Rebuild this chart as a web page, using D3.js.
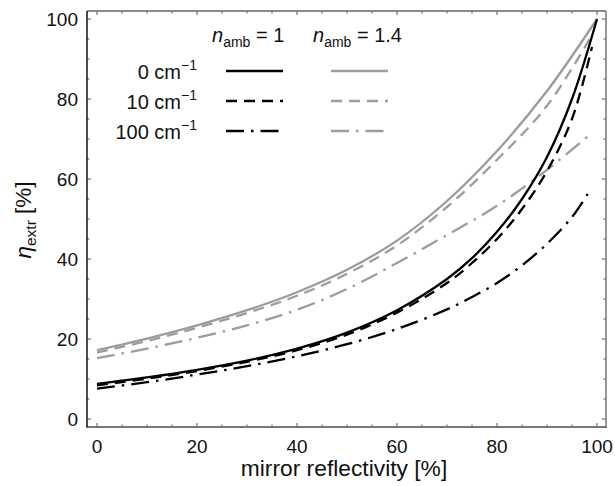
<!DOCTYPE html>
<html>
<head>
<meta charset="utf-8">
<script src="https://cdn.jsdelivr.net/npm/d3@7"></script>
<style>
body{margin:0;background:#fff;}
text{font-family:"Liberation Sans", Arial, Helvetica, sans-serif;fill:#111;}
</style>
</head>
<body>
<svg id="chart" width="615" height="486"></svg>
<script>
// values (x = mirror reflectivity %, y = eta_extr %)
var xsBlack = [0, 10, 20, 30, 40, 50, 60, 70, 75, 80, 85, 90, 95, 100];
var xsBlackDashed = [0, 10, 20, 30, 40, 50, 60, 70, 75, 80, 85, 90, 95, 99];
var xsBlackDashDot = [0, 10, 20, 30, 40, 50, 60, 70, 75, 80, 85, 90, 95, 98.5];
var xsGray = [0, 10, 20, 30, 40, 50, 60, 70, 80, 90, 100];
var xsGrayDashed = [0, 10, 20, 30, 40, 50, 60, 70, 80, 90, 99];
var xsGrayDashDot = [0, 10, 20, 30, 40, 50, 60, 70, 80, 90, 98.5];

var n1_0 = [8.8, 10.4, 12.3, 14.6, 17.6, 21.6, 27.2, 35, 40.2, 46.8, 55, 65.5, 80, 100];
var n1_10 = [8.4, 10.1, 12, 14.3, 17.2, 21.1, 26.6, 34, 39, 45, 52.5, 62, 75, 93];
var n1_100 = [7.6, 9.2, 11.1, 13.2, 15.7, 18.7, 22.5, 27.4, 30.5, 34, 38.4, 43.8, 50.5, 57];
var n14_0 = [17.2, 20.1, 23.4, 27.2, 31.7, 37.3, 44.6, 54.5, 67, 82, 100];
var n14_10 = [16.6, 19.5, 22.8, 26.5, 30.8, 36.3, 43.4, 53, 64.8, 78.3, 96];
var n14_100 = [15.2, 17.6, 20.3, 23.4, 27.3, 32.5, 39, 46, 53.3, 62.3, 71];

var xMajor = [0, 20, 40, 60, 80, 100];
var yMajor = [0, 20, 40, 60, 80, 100];
var rowLabels = ["0", "10", "100"];

var svg = d3.select("#chart");
var black = "#000", gray = "#9c9c9c";
var dashes = [null, "11,7", "18,7,2.5,7"];

var x = d3.scaleLinear().domain([-2, 101.8]).range([87, 606]);
var y = d3.scaleLinear().domain([-2, 102]).range([427, 11]);

var series = [
	{xv: xsBlack, yv: n1_0, color: black, dash: dashes[0]},
	{xv: xsBlackDashed, yv: n1_10, color: black, dash: dashes[1]},
	{xv: xsBlackDashDot, yv: n1_100, color: black, dash: dashes[2]},
	{xv: xsGray, yv: n14_0, color: gray, dash: dashes[0]},
	{xv: xsGrayDashed, yv: n14_10, color: gray, dash: dashes[1]},
	{xv: xsGrayDashDot, yv: n14_100, color: gray, dash: dashes[2]}
];

var line = d3.line()
	.x(function(d){ return x(d[0]); })
	.y(function(d){ return y(d[1]); })
	.curve(d3.curveCatmullRom.alpha(0.5));

// gray first so black sits on top
[3, 4, 5, 0, 1, 2].forEach(function(i){
	var s = series[i];
	svg.append("path")
		.datum(d3.zip(s.xv, s.yv))
		.attr("d", line)
		.attr("fill", "none")
		.attr("stroke", s.color)
		.attr("stroke-width", 2.3)
		.attr("stroke-dasharray", s.dash);
});

// frame ticks, inward on all sides
var minor = d3.range(0, 101, 5);
var tickG = svg.append("g").attr("stroke", "#555").attr("stroke-width", 1);
minor.forEach(function(v){
	var len = v % 20 === 0 ? 4 : 2.5;
	tickG.append("line").attr("x1", x(v)).attr("x2", x(v)).attr("y1", 427).attr("y2", 427 - len);
	tickG.append("line").attr("x1", x(v)).attr("x2", x(v)).attr("y1", 11).attr("y2", 11 + len);
	tickG.append("line").attr("y1", y(v)).attr("y2", y(v)).attr("x1", 87).attr("x2", 87 + len);
	tickG.append("line").attr("y1", y(v)).attr("y2", y(v)).attr("x1", 606).attr("x2", 606 - len);
});

// frame
svg.append("line").attr("x1", 87).attr("x2", 606).attr("y1", 11).attr("y2", 11).attr("stroke", "#666").attr("stroke-width", 1.5);
svg.append("line").attr("x1", 606).attr("x2", 606).attr("y1", 11).attr("y2", 427).attr("stroke", "#777").attr("stroke-width", 1.5);
svg.append("line").attr("x1", 86).attr("x2", 607).attr("y1", 427).attr("y2", 427).attr("stroke", "#777").attr("stroke-width", 1.8);
svg.append("line").attr("x1", 87).attr("x2", 87).attr("y1", 11).attr("y2", 427).attr("stroke", "#111").attr("stroke-width", 1.5);

// tick labels
svg.selectAll(".xl").data(xMajor).enter().append("text")
	.attr("x", function(d){ return x(d); })
	.attr("y", 453)
	.attr("text-anchor", "middle")
	.attr("font-size", 19)
	.text(function(d){ return d; });

svg.selectAll(".yl").data(yMajor).enter().append("text")
	.attr("x", 78)
	.attr("y", function(d){ return y(d) + 6.8; })
	.attr("text-anchor", "end")
	.attr("font-size", 19)
	.text(function(d){ return d; });

// axis titles
svg.append("text")
	.attr("x", 344).attr("y", 476)
	.attr("text-anchor", "middle")
	.attr("font-size", 22.8)
	.text("mirror reflectivity [%]");

var yt = svg.append("text")
	.attr("transform", "translate(31,220) rotate(-90)")
	.attr("text-anchor", "middle")
	.attr("font-size", 22.5);
yt.append("tspan").attr("font-style", "italic").text("η");
yt.append("tspan").attr("font-size", 15.5).attr("dy", 5).text("extr");
yt.append("tspan").attr("dy", -5).text(" [%]");

// legend header
var headers = [{x0: 212, label: " = 1"}, {x0: 313, label: " = 1.4"}];
headers.forEach(function(h){
	var t = svg.append("text").attr("x", h.x0).attr("y", 42).attr("font-size", 20);
	t.append("tspan").attr("font-style", "italic").text("n");
	t.append("tspan").attr("font-size", 14).attr("dy", 5).text("amb");
	t.append("tspan").attr("dy", -5).text(h.label);
});

// legend rows
var rowY = [71, 101, 131];
rowLabels.forEach(function(lab, i){
	var t = svg.append("text")
		.attr("x", 197).attr("y", rowY[i] + 8)
		.attr("text-anchor", "end")
		.attr("font-size", 20);
	t.append("tspan").text(lab + " cm");
	t.append("tspan").attr("font-size", 14).attr("dy", -9).text("−1");

	svg.append("line")
		.attr("x1", 226).attr("x2", 283).attr("y1", rowY[i]).attr("y2", rowY[i])
		.attr("stroke", black).attr("stroke-width", 2.3).attr("stroke-dasharray", dashes[i]);
	svg.append("line")
		.attr("x1", 331).attr("x2", 388).attr("y1", rowY[i]).attr("y2", rowY[i])
		.attr("stroke", gray).attr("stroke-width", 2.3).attr("stroke-dasharray", dashes[i]);
});
</script>
</body>
</html>
